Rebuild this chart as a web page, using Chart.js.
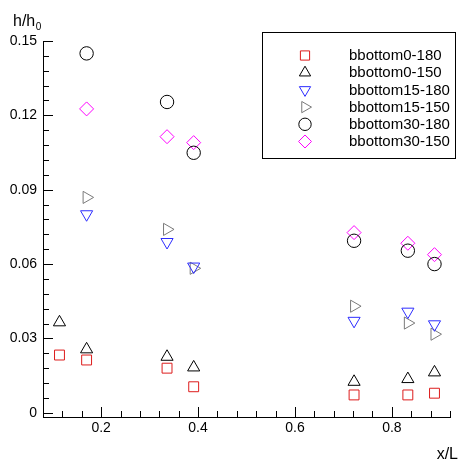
<!DOCTYPE html>
<html>
<head>
<meta charset="utf-8">
<script src="https://cdn.jsdelivr.net/npm/chart.js@4.4.0/dist/chart.umd.min.js"></script>
<style>
    html, body { margin: 0; padding: 0; background: #ffffff; }
    #caixa { position: relative; width: 458px; height: 461px; }
</style>
</head>
<body>
<div id="caixa"><canvas id="graficoPerfil"></canvas></div>
<script>
// posições x/L das medições
const posicoesX = [0.114, 0.170, 0.336, 0.391, 0.722, 0.833, 0.888];

// valores h/h0 de cada série (null = sem medição)
const bbottom0_180  = [0.0233, 0.0213, 0.0180, 0.0105, 0.0072, 0.0072, 0.0079];
const bbottom0_150  = [0.0365, 0.0256, 0.0226, 0.0183, 0.0125, 0.0136, 0.0163];
const bbottom15_180 = [null, 0.0801, 0.0689, 0.0590, 0.0371, 0.0408, 0.0357];
const bbottom15_150 = [null, 0.0869, 0.0740, 0.0583, 0.0430, 0.0362, 0.0317];
const bbottom30_180 = [null, 0.1450, 0.1254, 0.1049, 0.0694, 0.0654, 0.0600];
const bbottom30_150 = [null, 0.1226, 0.1114, 0.1090, 0.0727, 0.0684, 0.0638];

const nomesSeries = ['bbottom0-180', 'bbottom0-150', 'bbottom15-180', 'bbottom15-150', 'bbottom30-180', 'bbottom30-150'];

// marcas dos eixos
const xTicksMaiores = [0.2, 0.4, 0.6, 0.8];
const xRotulos = ['0.2', '0.4', '0.6', '0.8'];
const xPassoMenor = 0.04;
const yTicksMaiores = [0, 0.03, 0.06, 0.09, 0.12, 0.15];
const yRotulos = ['0', '0.03', '0.06', '0.09', '0.12', '0.15'];
const yPassoMenor = 0.006;

const fonte = '"Liberation Sans", Arial, Helvetica, sans-serif';

// estilo de cada série: cor, símbolo e rotação
const estilos = [
    { cor: '#dd1c1c', simbolo: 'rect', rot: 0, raio: 7 },
    { cor: '#000000', simbolo: 'triangle', rot: 0, raio: 7 },
    { cor: '#2d2dff', simbolo: 'triangle', rot: 180, raio: 7 },
    { cor: '#7a7a7a', simbolo: 'triangle', rot: 90, raio: 7 },
    { cor: '#000000', simbolo: 'circle', rot: 0, raio: 6.7 },
    { cor: '#ff00ff', simbolo: 'rectRot', rot: 0, raio: 7 }
];

const valoresSeries = [bbottom0_180, bbottom0_150, bbottom15_180, bbottom15_150, bbottom30_180, bbottom30_150];

const conjuntos = valoresSeries.map((valores, i) => ({
    label: nomesSeries[i],
    data: valores.map((v, k) => ({ x: posicoesX[k], y: v })).filter(p => p.y !== null),
    pointStyle: estilos[i].simbolo,
    rotation: estilos[i].rot,
    radius: estilos[i].raio,
    borderWidth: 1,
    borderColor: estilos[i].cor,
    backgroundColor: 'rgba(0,0,0,0)'
}));

function acharMaior(v, lista) {
    return lista.findIndex(t => Math.abs(t - v) < 1e-6);
}

// lista de marcas (maiores + menores) entre dois limites
function listaMarcas(ini, fim, passo) {
    const n = Math.round((fim - ini) / passo);
    const out = [];
    for (let k = 0; k <= n; k++) out.push({ value: Math.round((ini + k * passo) * 1e6) / 1e6 });
    return out;
}

// desenha as marcas para dentro, titulos e a legenda
const extras = {
    id: 'extras',
    afterDraw(chart) {
        const { ctx, chartArea: a, scales: { x, y } } = chart;
        ctx.save();
        ctx.strokeStyle = '#000';
        ctx.lineWidth = 1;
        ctx.beginPath();
        y.ticks.forEach(t => {
            const comp = acharMaior(t.value, yTicksMaiores) >= 0 ? 10 : 6;
            const py = Math.round(y.getPixelForValue(t.value)) + 0.5;
            ctx.moveTo(a.left, py);
            ctx.lineTo(a.left + comp, py);
        });
        x.ticks.forEach(t => {
            const comp = acharMaior(t.value, xTicksMaiores) >= 0 ? 10 : 6;
            const px = Math.round(x.getPixelForValue(t.value)) + 0.5;
            ctx.moveTo(px, a.bottom);
            ctx.lineTo(px, a.bottom - comp);
        });
        ctx.stroke();

        // títulos dos eixos
        ctx.fillStyle = '#000';
        ctx.textBaseline = 'alphabetic';
        ctx.textAlign = 'left';
        ctx.font = '16px ' + fonte;
        ctx.fillText('h/h', 13, 26);
        const larg = ctx.measureText('h/h').width;
        ctx.font = '10px ' + fonte;
        ctx.fillText('0', 13 + larg + 0.5, 29.5);
        ctx.font = '16px ' + fonte;
        ctx.textAlign = 'right';
        ctx.fillText('x/L', 458, 459);

        // legenda
        const lx = 262.5, ly = 32.5, lw = 193, lh = 126;
        ctx.fillStyle = '#fff';
        ctx.fillRect(lx, ly, lw, lh);
        ctx.strokeRect(lx, ly, lw, lh);
        ctx.font = '15px ' + fonte;
        ctx.textAlign = 'left';
        ctx.textBaseline = 'middle';
        chart.data.datasets.forEach((ds, i) => {
            const cy = 55.5 + i * 17.2;
            ctx.strokeStyle = ds.borderColor;
            ctx.fillStyle = 'rgba(0,0,0,0)';
            ctx.lineWidth = 1;
            Chart.helpers.drawPoint(ctx, {
                pointStyle: ds.pointStyle, rotation: ds.rotation,
                radius: ds.radius - 0.5, borderWidth: 1
            }, 305, cy);
            ctx.fillStyle = '#000';
            ctx.fillText(ds.label, 349, cy + 0.5);
        });
        ctx.restore();
    }
};

document.addEventListener('DOMContentLoaded', () => {
    const ctxPerfil = document.getElementById('graficoPerfil').getContext('2d');
    new Chart(ctxPerfil, {
        type: 'scatter',
        data: { datasets: conjuntos },
        options: {
            responsive: true,
            maintainAspectRatio: false,
            animation: false,
            devicePixelRatio: 1,
            layout: { padding: { top: 41, right: 0, bottom: 0, left: 0 } },
            plugins: {
                legend: { display: false },
                tooltip: { enabled: false }
            },
            scales: {
                x: {
                    type: 'linear',
                    min: 0.08,
                    max: 0.92,
                    afterFit: s => { s.height = 44; },
                    afterBuildTicks: s => { s.ticks = listaMarcas(0.08, 0.92, xPassoMenor); },
                    grid: { display: false, drawTicks: false },
                    border: { display: true, color: '#000', width: 1 },
                    ticks: {
                        autoSkip: false,
                        maxRotation: 0,
                        padding: 3,
                        color: '#000',
                        font: { family: fonte, size: 14 },
                        callback: v => {
                            const k = acharMaior(v, xTicksMaiores);
                            return k >= 0 ? xRotulos[k] : '';
                        }
                    }
                },
                y: {
                    type: 'linear',
                    min: -0.0017,
                    max: 0.15,
                    afterFit: s => { s.width = 43; },
                    afterBuildTicks: s => { s.ticks = listaMarcas(0, 0.15, yPassoMenor); },
                    grid: { display: false, drawTicks: false },
                    border: { display: true, color: '#000', width: 1 },
                    ticks: {
                        autoSkip: false,
                        padding: 6,
                        color: '#000',
                        font: { family: fonte, size: 14 },
                        callback: v => {
                            const k = acharMaior(v, yTicksMaiores);
                            return k >= 0 ? yRotulos[k] : '';
                        }
                    }
                }
            }
        },
        plugins: [extras]
    });
});
</script>
</body>
</html>
